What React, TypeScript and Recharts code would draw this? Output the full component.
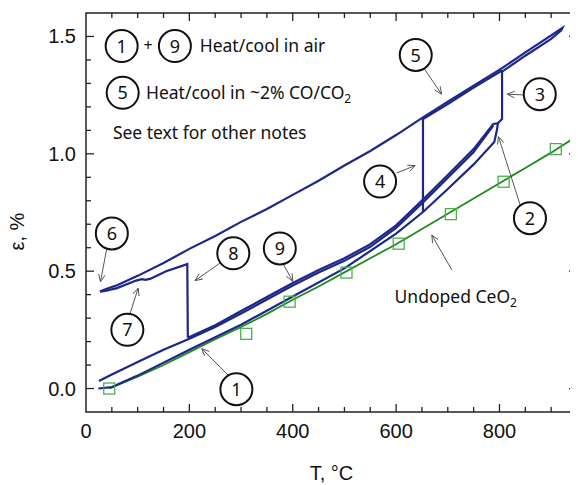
import React from 'react';
import {
  ComposedChart,
  Line,
  Scatter,
  XAxis,
  YAxis,
  ReferenceArea,
  ReferenceDot,
  ReferenceLine,
} from 'recharts';

// ---------- data (T in °C, strain ε in %) ----------
const undopedFit: [number, number][] = [
  [45, 0.0], [100, 0.05], [150, 0.1], [200, 0.155], [250, 0.21], [300, 0.262],
  [350, 0.318], [400, 0.378], [450, 0.435], [500, 0.495], [550, 0.555],
  [600, 0.615], [650, 0.68], [700, 0.745], [750, 0.81], [800, 0.875],
  [850, 0.94], [900, 1.005], [950, 1.075],
];
const undopedPoints: [number, number][] = [
  [45, 0.0], [310, 0.233], [394, 0.37], [504, 0.494], [605, 0.617],
  [706, 0.743], [808, 0.881], [909, 1.02],
];
// (1) heat in air, then (3) jump at ~800 °C
const heatAir1: [number, number][] = [
  [24, 0.0], [50, 0.006], [100, 0.055], [200, 0.165], [300, 0.272],
  [400, 0.392], [500, 0.512], [600, 0.66], [652, 0.752], [700, 0.85],
  [750, 0.955], [790, 1.05], [795, 1.1], [797, 1.13], [805, 1.148], [805, 1.355],
];
// (5) heat / cool in ~2% CO/CO2
const coHeat: [number, number][] = [
  [805, 1.35], [850, 1.418], [900, 1.49], [920, 1.527],
];
const coCool: [number, number][] = [
  [920, 1.527], [922, 1.537], [900, 1.505], [850, 1.432], [805, 1.365],
  [750, 1.29], [700, 1.222], [652, 1.155], [600, 1.08], [550, 1.012],
  [500, 0.95], [450, 0.885], [400, 0.825], [350, 0.765], [300, 0.71],
  [250, 0.65], [200, 0.595], [150, 0.535], [100, 0.48], [60, 0.44],
  [40, 0.425], [27, 0.413],
];
// (6) -> (7) -> (8) reheat and drop at ~200 °C
const reheat78: [number, number][] = [
  [27, 0.413], [35, 0.415], [60, 0.428], [97, 0.46], [108, 0.466],
  [115, 0.463], [125, 0.468], [155, 0.5], [196, 0.53], [197, 0.216],
];
// (9) heat / cool in air
const airHeat9: [number, number][] = [
  [197, 0.216], [250, 0.27], [300, 0.33], [350, 0.39], [400, 0.45],
  [450, 0.505], [500, 0.555], [550, 0.615], [600, 0.695], [652, 0.805],
  [700, 0.91], [750, 1.02], [788, 1.127], [797, 1.13],
];
const airCool9: [number, number][] = [
  [788, 1.12], [750, 1.008], [700, 0.898], [652, 0.793], [600, 0.684],
  [550, 0.604], [500, 0.544], [450, 0.494], [400, 0.439], [350, 0.379],
  [300, 0.32], [250, 0.262], [200, 0.212], [150, 0.165], [100, 0.113],
  [50, 0.06], [25, 0.032],
];
// (4) jump at ~650 °C, then heating in CO
const jump4: [number, number][] = [
  [652, 0.752], [652, 1.148], [700, 1.212], [750, 1.282], [805, 1.355],
];

const xTicks = [0, 50, 100, 150, 200, 250, 300, 350, 400, 450, 500, 550, 600, 650, 700, 750, 800, 850, 900];
const xMajor = [0, 200, 400, 600, 800];
const yTicks = [0, 0.1, 0.2, 0.3, 0.4, 0.5, 0.6, 0.7, 0.8, 0.9, 1.0, 1.1, 1.2, 1.3, 1.4, 1.5];
const yMajor = [0, 0.5, 1.0, 1.5];

// circled labels: [text, T, ε]
const circles: [string, number, number][] = [
  ['1', 69, 1.459], ['9', 172, 1.459], ['5', 71, 1.26],
  ['1', 291, -0.003], ['9', 375, 0.597], ['8', 285, 0.576], ['6', 50, 0.661],
  ['7', 80, 0.25], ['4', 569, 0.882], ['5', 638, 1.421], ['3', 878, 1.254],
  ['2', 859, 0.726],
];
// arrows: [T1, ε1, T2, ε2]
const arrows: [number, number, number, number][] = [
  [278, 0.05, 224, 0.17],
  [379, 0.541, 400, 0.457],
  [259, 0.534, 211, 0.46],
  [40, 0.594, 28, 0.455],
  [85, 0.318, 101, 0.428],
  [601, 0.918, 637, 0.95],
  [654, 1.364, 688, 1.254],
  [847, 1.251, 815, 1.254],
  [840, 0.782, 798, 1.073],
  [708, 0.505, 669, 0.654],
];

const toPts = (a: [number, number][]) => a.map(([t, e]) => ({ t, e }));

// ---------- styling ----------
const PLOT_W = 491;
const PLOT_H = 399;
const NAVY = '#1c2788';
const GREEN = '#1f8a1f';
const AXIS = '#222';
const TICK_FONT = 'Liberation Sans, Arial, sans-serif';
const NOTE_FONT = 'Noto Sans, Open Sans, sans-serif';
const NOTE_SIZE = 17.5;

const XTick = (p: any) => {
  const { x, y, payload } = p;
  const v = payload.value;
  const major = xMajor.includes(v);
  const len = major ? 8 : 5;
  return (
    <g>
      {v > 0 && <line x1={x} y1={y} x2={x} y2={y - len} stroke={AXIS} strokeWidth={1.3} />}
      {v > 0 && <line x1={x} y1={y - PLOT_H} x2={x} y2={y - PLOT_H + len} stroke={AXIS} strokeWidth={1.3} />}
      {major && (
        <text x={x} y={y + 26} textAnchor="middle" fontSize={20} fontFamily={TICK_FONT} fill="#111">
          {v}
        </text>
      )}
    </g>
  );
};

const YTick = (p: any) => {
  const { x, y, payload } = p;
  const v = payload.value;
  const major = yMajor.some((m) => Math.abs(m - v) < 1e-6);
  const len = major ? 8 : 5;
  return (
    <g>
      <line x1={x} y1={y} x2={x + len} y2={y} stroke={AXIS} strokeWidth={1.3} />
      <line x1={x + PLOT_W} y1={y} x2={x + PLOT_W - len} y2={y} stroke={AXIS} strokeWidth={1.3} />
      {major && (
        <text x={x - 10} y={y + 7} textAnchor="end" fontSize={20} fontFamily={TICK_FONT} fill="#111">
          {v.toFixed(1)}
        </text>
      )}
    </g>
  );
};

const Arrow = (p: any) => {
  const { x1, y1, x2, y2 } = p;
  const ang = Math.atan2(y2 - y1, x2 - x1);
  const L = 8;
  const a = 0.42;
  const ax = x2 - L * Math.cos(ang - a);
  const ay = y2 - L * Math.sin(ang - a);
  const bx = x2 - L * Math.cos(ang + a);
  const by = y2 - L * Math.sin(ang + a);
  return (
    <g>
      <line x1={x1} y1={y1} x2={x2} y2={y2} stroke="#555" strokeWidth={1} />
      <polyline points={`${ax},${ay} ${x2},${y2} ${bx},${by}`} fill="none" stroke="#555" strokeWidth={1} />
    </g>
  );
};

const circleShape = (label: string) => (p: any) => (
  <g>
    <circle cx={p.cx} cy={p.cy} r={16} fill="white" stroke="#111" strokeWidth={2} />
    <text x={p.cx} y={p.cy + 6.5} textAnchor="middle" fontSize={18} fontFamily={NOTE_FONT} fill="#111">
      {label}
    </text>
  </g>
);

const textShape = (content: React.ReactNode) => (p: any) => (
  <text x={p.cx} y={p.cy + 6} textAnchor="start" fontSize={NOTE_SIZE} fontFamily={NOTE_FONT} fill="#111">
    {content}
  </text>
);

const squareShape = (p: any) => (
  <rect x={p.cx - 5.5} y={p.cy - 5.5} width={11} height={11} fill="none" stroke="#4caf50" strokeWidth={1.3} />
);

const navyLines = [heatAir1, coHeat, coCool, reheat78, airHeat9, airCool9, jump4];

export default function App() {
  return (
    <div style={{ width: 578, height: 485, marginLeft: -8, marginTop: -8 }}>
      <ComposedChart width={578} height={485} margin={{ top: 13, right: 1, bottom: 0, left: 8 }}>
        <XAxis
          type="number"
          dataKey="t"
          domain={[0, 950]}
          ticks={xTicks}
          interval={0}
          allowDataOverflow
          axisLine={false}
          tickLine={false}
          tickSize={0}
          tickMargin={0}
          height={73}
          tick={(p: any) => <XTick {...p} />}
          label={{ value: 'T, °C', position: 'center', dy: 24, fontSize: 20, fontFamily: TICK_FONT, fill: '#111' }}
        />
        <YAxis
          type="number"
          dataKey="e"
          domain={[-0.1, 1.6]}
          ticks={yTicks}
          interval={0}
          allowDataOverflow
          axisLine={false}
          tickLine={false}
          tickSize={0}
          tickMargin={0}
          width={78}
          tick={(p: any) => <YTick {...p} />}
          label={{ value: 'ε, %', angle: -90, position: 'center', dx: -30, dy: 19, fontSize: 20, fontFamily: TICK_FONT, fill: '#111' }}
        />
        <Line
          data={toPts(undopedFit)}
          dataKey="e"
          stroke={GREEN}
          strokeWidth={1.8}
          dot={false}
          isAnimationActive={false}
        />
        <Scatter data={toPts(undopedPoints)} dataKey="e" shape={squareShape} isAnimationActive={false} />
        {navyLines.map((s, i) => (
          <Line
            key={`n${i}`}
            data={toPts(s)}
            dataKey="e"
            stroke={NAVY}
            strokeWidth={2.2}
            dot={false}
            isAnimationActive={false}
          />
        ))}
        <ReferenceArea x1={0} x2={950} y1={-0.1} y2={1.6} fill="none" stroke={AXIS} strokeWidth={1.5} fillOpacity={0} />
        {arrows.map(([t1, e1, t2, e2], i) => (
          <ReferenceLine
            key={`a${i}`}
            segment={[{ x: t1, y: e1 }, { x: t2, y: e2 }]}
            shape={(p: any) => <Arrow {...p} />}
          />
        ))}
        {circles.map(([lab, t, e], i) => (
          <ReferenceDot key={`c${i}`} x={t} y={e} r={16} shape={circleShape(lab)} ifOverflow="visible" />
        ))}
        <ReferenceDot x={120} y={1.459} r={1} shape={(p: any) => (
          <text x={p.cx} y={p.cy + 5} textAnchor="middle" fontSize={16} fontFamily={NOTE_FONT} fill="#111">+</text>
        )} />
        <ReferenceDot x={220} y={1.459} r={1} shape={textShape('Heat/cool in air')} />
        <ReferenceDot x={116} y={1.26} r={1} shape={textShape(
          <>Heat/cool in ~2% CO/CO<tspan dy={4} fontSize={12}>2</tspan></>
        )} />
        <ReferenceDot x={52} y={1.09} r={1} shape={textShape('See text for other notes')} />
        <ReferenceDot x={597} y={0.39} r={1} shape={textShape(
          <>Undoped CeO<tspan dy={4} fontSize={12}>2</tspan></>
        )} />
      </ComposedChart>
    </div>
  );
}
